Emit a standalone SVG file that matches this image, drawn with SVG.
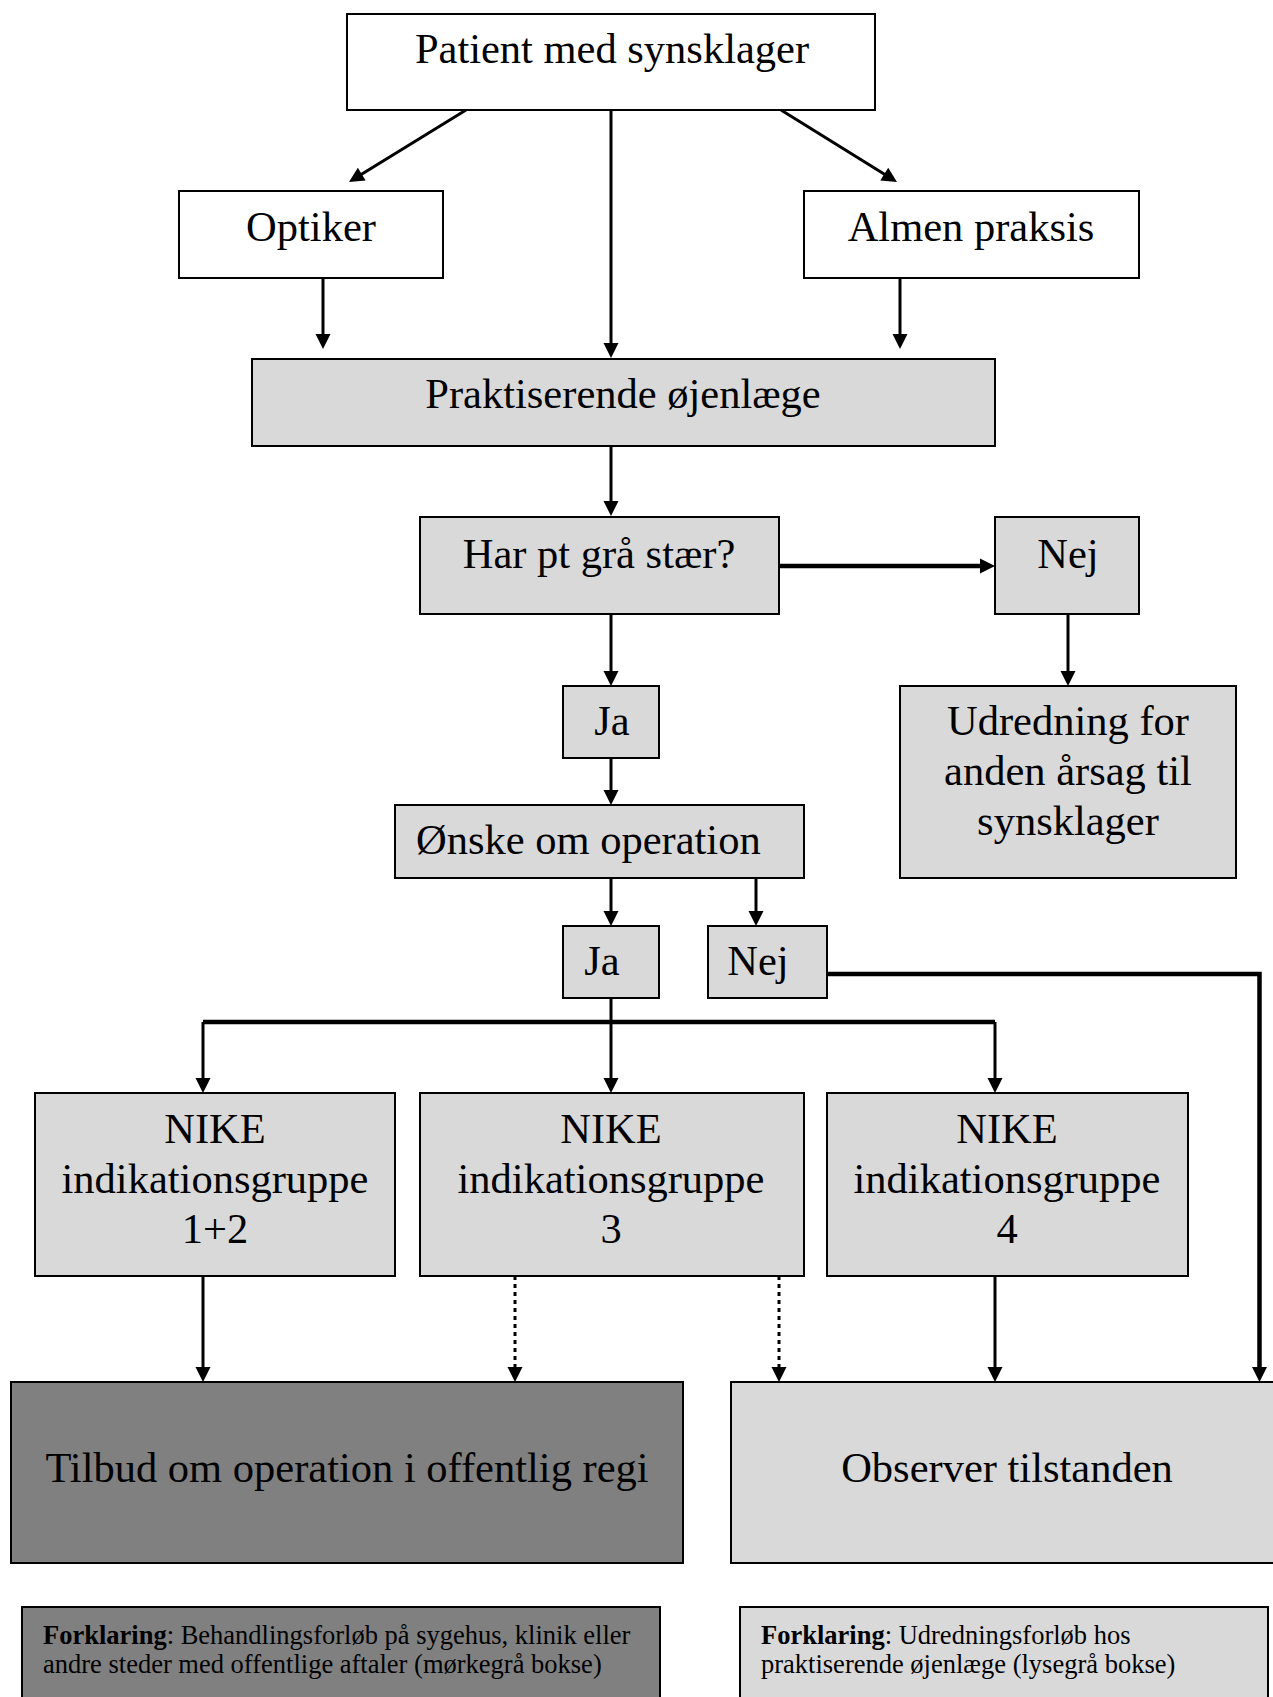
<svg xmlns="http://www.w3.org/2000/svg" width="1273" height="1697" viewBox="0 0 1273 1697">
<style>
  .box { stroke: #000; stroke-width: 2; }
  .white { fill: #ffffff; }
  .light { fill: #d9d9d9; }
  .dark { fill: #808080; }
  .t { font-family: "Liberation Serif", "Times New Roman", serif; font-size: 42.5px; fill: #000; }
  .c { text-anchor: middle; }
  .lg { font-family: "Liberation Serif", "Times New Roman", serif; font-size: 26.5px; fill: #000; }
  .conn { fill: none; stroke: #000; stroke-width: 3; }
  .thick { stroke-width: 4.5; }
  .dot { stroke-dasharray: 4 4; }
</style>
<defs>
  <marker id="arr" markerUnits="userSpaceOnUse" markerWidth="15" markerHeight="15" refX="5" refY="7.5" orient="auto" overflow="visible">
    <path d="M0,0 L15,7.5 L0,15 z" fill="#000"/>
  </marker>
</defs>
<rect width="1273" height="1697" fill="#ffffff"/>

<g id="connectors">
  <path class="conn" d="M466,110 L357.5,176.8" marker-end="url(#arr)"/>
  <path class="conn" d="M781,110 L888.5,176.7" marker-end="url(#arr)"/>
  <path class="conn" d="M611,110 V348" marker-end="url(#arr)"/>
  <path class="conn" d="M323,278 V339" marker-end="url(#arr)"/>
  <path class="conn" d="M900,278 V339" marker-end="url(#arr)"/>
  <path class="conn" d="M611,446 V506" marker-end="url(#arr)"/>
  <path class="conn thick" d="M779,566 H985" marker-end="url(#arr)"/>
  <path class="conn" d="M611,614 V676" marker-end="url(#arr)"/>
  <path class="conn" d="M1068,614 V676" marker-end="url(#arr)"/>
  <path class="conn" d="M611,758 V795" marker-end="url(#arr)"/>
  <path class="conn" d="M611,878 V916" marker-end="url(#arr)"/>
  <path class="conn" d="M756,878 V916" marker-end="url(#arr)"/>
  <path class="conn" d="M611,998 V1022"/>
  <path class="conn thick" d="M203,1022 H995"/>
  <path class="conn" d="M203,1022 V1083" marker-end="url(#arr)"/>
  <path class="conn" d="M611,1022 V1083" marker-end="url(#arr)"/>
  <path class="conn" d="M995,1022 V1083" marker-end="url(#arr)"/>
  <path class="conn thick" d="M827,974 H1259.5 V1372" marker-end="url(#arr)"/>
  <path class="conn" d="M203,1276 V1372" marker-end="url(#arr)"/>
  <path class="conn dot" d="M515,1276 V1372" marker-end="url(#arr)"/>
  <path class="conn dot" d="M779,1276 V1372" marker-end="url(#arr)"/>
  <path class="conn" d="M995,1276 V1372" marker-end="url(#arr)"/>
</g>

<g id="patient">
  <rect class="box white" x="347" y="14" width="528" height="96"/>
  <text class="t c" x="612" y="63">Patient med synsklager</text>
</g>
<g id="optiker">
  <rect class="box white" x="179" y="191" width="264" height="87"/>
  <text class="t c" x="311" y="241">Optiker</text>
</g>
<g id="almen">
  <rect class="box white" x="804" y="191" width="335" height="87"/>
  <text class="t c" x="971" y="241">Almen praksis</text>
</g>
<g id="praktiserende">
  <rect class="box light" x="252" y="359" width="743" height="87"/>
  <text class="t c" x="623" y="408">Praktiserende øjenlæge</text>
</g>
<g id="har">
  <rect class="box light" x="420" y="517" width="359" height="97"/>
  <text class="t c" x="599" y="568">Har pt grå stær?</text>
</g>
<g id="nej1">
  <rect class="box light" x="995" y="517" width="144" height="97"/>
  <text class="t c" x="1068" y="568">Nej</text>
</g>
<g id="ja1">
  <rect class="box light" x="563" y="686" width="96" height="72"/>
  <text class="t c" x="612" y="735">Ja</text>
</g>
<g id="udredning">
  <rect class="box light" x="900" y="686" width="336" height="192"/>
  <text class="t c" x="1068" y="735">Udredning for</text>
  <text class="t c" x="1068" y="785">anden årsag til</text>
  <text class="t c" x="1068" y="835">synsklager</text>
</g>
<g id="onske">
  <rect class="box light" x="395" y="805" width="409" height="73"/>
  <text class="t" x="416" y="854">Ønske om operation</text>
</g>
<g id="ja2">
  <rect class="box light" x="563" y="926" width="96" height="72"/>
  <text class="t c" x="602" y="975">Ja</text>
</g>
<g id="nej2">
  <rect class="box light" x="708" y="926" width="119" height="72"/>
  <text class="t c" x="758" y="975">Nej</text>
</g>
<g id="nike12">
  <rect class="box light" x="35" y="1093" width="360" height="183"/>
  <text class="t c" x="215" y="1143">NIKE</text>
  <text class="t c" x="215" y="1193">indikationsgruppe</text>
  <text class="t c" x="215" y="1243">1+2</text>
</g>
<g id="nike3">
  <rect class="box light" x="420" y="1093" width="384" height="183"/>
  <text class="t c" x="611" y="1143">NIKE</text>
  <text class="t c" x="611" y="1193">indikationsgruppe</text>
  <text class="t c" x="611" y="1243">3</text>
</g>
<g id="nike4">
  <rect class="box light" x="827" y="1093" width="361" height="183"/>
  <text class="t c" x="1007" y="1143">NIKE</text>
  <text class="t c" x="1007" y="1193">indikationsgruppe</text>
  <text class="t c" x="1007" y="1243">4</text>
</g>
<g id="tilbud">
  <rect class="box dark" x="11" y="1382" width="672" height="181"/>
  <text class="t c" x="347" y="1482">Tilbud om operation i offentlig regi</text>
</g>
<g id="observer">
  <rect class="box light" x="731" y="1382" width="545" height="181"/>
  <text class="t c" x="1007" y="1482">Observer tilstanden</text>
</g>
<g id="legend-dark">
  <rect class="box dark" x="22" y="1607" width="638" height="100"/>
  <text class="lg" x="43" y="1644"><tspan font-weight="bold">Forklaring</tspan>: Behandlingsforløb på sygehus, klinik eller</text>
  <text class="lg" x="43" y="1673">andre steder med offentlige aftaler (mørkegrå bokse)</text>
</g>
<g id="legend-light">
  <rect class="box light" x="740" y="1607" width="528" height="100"/>
  <text class="lg" x="761" y="1644"><tspan font-weight="bold">Forklaring</tspan>: Udredningsforløb hos</text>
  <text class="lg" x="761" y="1673">praktiserende øjenlæge (lysegrå bokse)</text>
</g>
</svg>
